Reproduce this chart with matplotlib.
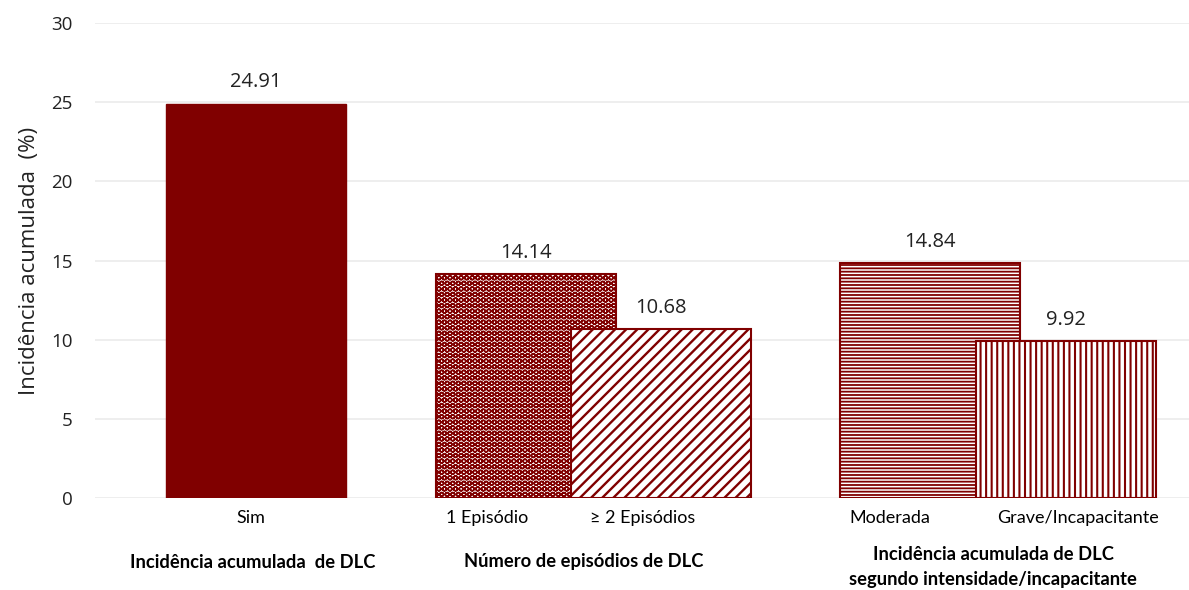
import matplotlib.pyplot as plt
import matplotlib as mpl

# dados
categorias = ['Sim', '1 Episódio', '≥ 2 Episódios', 'Moderada', 'Grave/Incapacitante']
valores = [24.91, 14.14, 10.68, 14.84, 9.92]
grupos = ['Incidência acumulada  de DLC', 'Número de episódios de DLC',
          'Incidência acumulada de DLC\nsegundo intensidade/incapacitante']
yticks = [0, 5, 10, 15, 20, 25, 30]

# layout (eixo x em pixels da figura)
pos_barras = [256, 526, 661, 930, 1066]
pos_cat = [251, 487, 643, 890, 1078]
pos_grupo = [253, 584, 993]
hatches = [None, 'OOO', '///', '-----', '|||']
hatch_lw = [1.0, 1.1, 1.7, 1.3, 1.5]
cor = '#800000'

fonte = ['Open Sans', 'DejaVu Sans']
fonte_rot = ['Liberation Sans Narrow', 'Lato', 'DejaVu Sans']

fig = plt.figure(figsize=(11.89, 5.90), dpi=100)
ax = fig.add_axes([95 / 1189, 1 - 498 / 590, 1 - 95 / 1189, (498 - 23) / 590])
trans = mpl.transforms.blended_transform_factory(ax.transData, fig.transFigure)

for x, v, h, hl in zip(pos_barras, valores, hatches, hatch_lw):
    with mpl.rc_context({'hatch.linewidth': hl}):
        if h is None:
            ax.bar(x, v, width=180, color=cor, edgecolor=cor, linewidth=1, zorder=3)
        else:
            ax.bar(x, v, width=180, facecolor='white', edgecolor=cor, hatch=h,
                   linewidth=1.5, zorder=3)
    ax.text(x, v + 1.35, f'{v:.2f}', ha='center', va='center', fontsize=14.5,
            family=fonte, color='#222222')

ax.set_xlim(95, 1189)
ax.set_ylim(0, 30)
ax.set_yticks(yticks)
ax.set_xticks([])
ax.grid(axis='y', color='#ebebeb', linewidth=1.2, zorder=0)
for s in ax.spines.values():
    s.set_visible(False)
ax.tick_params(axis='y', length=0, pad=16, labelsize=13.5, labelcolor='#222222')
for lab in ax.get_yticklabels():
    lab.set_family(fonte)
ax.set_ylabel('Incidência acumulada  (%)', fontsize=16, family=fonte,
              color='#222222', labelpad=8)

for x, c in zip(pos_cat, categorias):
    ax.text(x, 1 - 518 / 590, c, transform=trans, ha='center', va='center',
            fontsize=13, family=fonte_rot)

for x, g in zip(pos_grupo, grupos):
    yy = 1 - 562 / 590 if '\n' not in g else 1 - 567 / 590
    ax.text(x, yy, g, transform=trans, ha='center', va='center', fontsize=13.2,
            family=fonte_rot, weight='bold', linespacing=1.5)

fig.savefig('out.png', dpi=100)
